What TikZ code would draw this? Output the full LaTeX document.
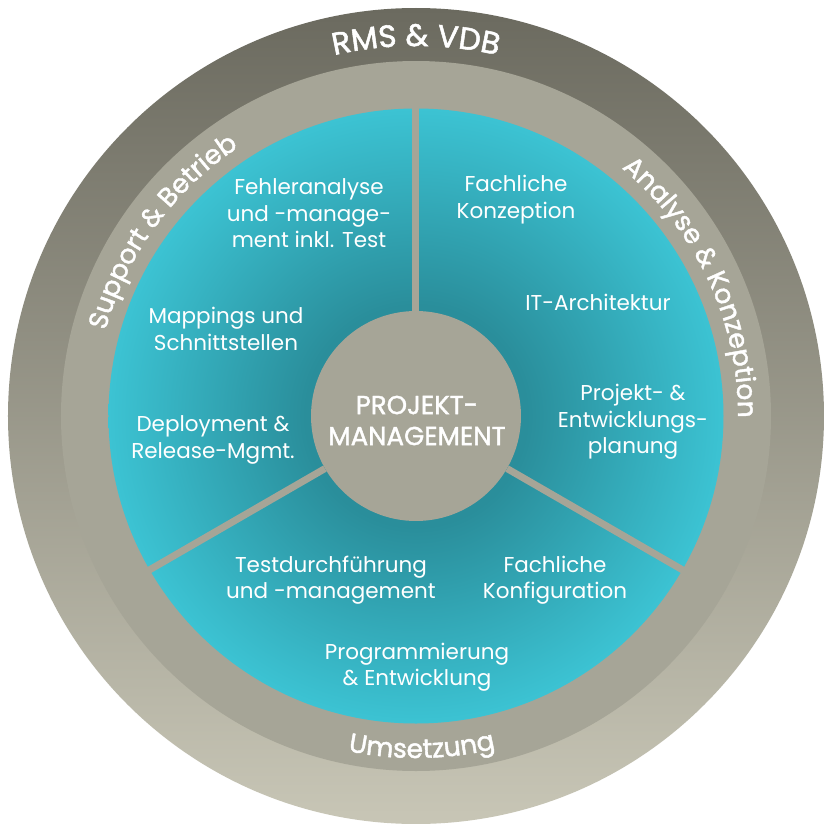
\documentclass[tikz,border=0pt]{standalone}
\usepackage{fontspec}
\setmainfont{Poppins}
\newfontfamily\ringfont{Poppins}[FakeBold=1.6]
\usetikzlibrary{decorations.text}
\definecolor{ringtwo}{HTML}{A6A597}
\definecolor{outtop}{HTML}{6B6A5F}
\definecolor{outbot}{HTML}{C8C6B6}
\definecolor{tealdark}{HTML}{2A8E9B}
\definecolor{teallight}{HTML}{3CC3D3}
\pgfdeclareradialshading{tealshade}{\pgfpoint{0bp}{0bp}}{color(0bp)=(tealdark); color(9bp)=(tealdark); color(25bp)=(teallight); color(50bp)=(teallight)}
\tikzset{
  inner/.style={text=white, align=center, font=\fontsize{21.5}{26.5}\selectfont, inner sep=0pt},
  spoke/.style={draw=ringtwo, line width=7pt},
  ringlabel/.style={decorate, decoration={text along path, text align=center, text color=white}},
}
\begin{document}
\begin{tikzpicture}[x=1pt,y=1pt]
\useasboundingbox (-416,-407) rectangle (409,416);
\fill[white] (-416,-407) rectangle (409,416);
\shade[top color=outtop, bottom color=outbot] (0,0) circle (408);
\fill[ringtwo] (0,0) circle (355);
\shade[shading=tealshade] (0,0) circle (307.5);
\node[circle, fill=ringtwo, minimum size=210pt, inner sep=0pt] (pmcircle) at (0,0) {};
\coordinate (s1) at (90:309);
\coordinate (s2) at (210:309);
\coordinate (s3) at (330:309);
\draw[spoke] (pmcircle.90) -- (s1);
\draw[spoke] (pmcircle.210) -- (s2);
\draw[spoke] (pmcircle.330) -- (s3);
% ring labels
\path[ringlabel, decoration={text={|\ringfont\fontsize{31}{33}\selectfont|RMS {\&} VDB}}] (115:370) arc[start angle=115, end angle=65, radius=370];
\path[ringlabel, decoration={text={|\ringfont\fontsize{26.5}{28}\selectfont|Support {\&} Betrieb}}] (194:322) arc[start angle=194, end angle=94, radius=322];
\path[ringlabel, decoration={text={|\ringfont\fontsize{26.5}{28}\selectfont|Analyse {\&} Konzeption}}] (88:322) arc[start angle=88, end angle=-38, radius=322];
\path[ringlabel, decoration={text={|\ringfont\fontsize{26.5}{28}\selectfont|Umsetzung}}] (238:342) arc[start angle=238, end angle=304, radius=342];
% inner texts
\node[text=white, align=center, font=\ringfont\fontsize{26}{31}\selectfont, inner sep=0pt] (pm) at (1,-4.5) {PROJEKT-\\MANAGEMENT};
\node[inner] (fehler) at (-107,202.5) {Fehleranalyse\\und -manage-\\ment inkl. Test};
\node[inner] (fkonz) at (100,216.5) {Fachliche\\Konzeption};
\node[inner] (itarch) at (182,113.5) {IT-Architektur};
\node[inner] (mapp) at (-190,87) {Mappings und\\Schnittstellen};
\node[inner] (pep) at (217,-6) {Projekt- \&\\Entwicklungs-\\planung};
\node[inner] (deploy) at (-203,-24) {Deployment \&\\Release-Mgmt.};
\node[inner] (test) at (-85,-164) {Testdurchführung\\und -management};
\node[inner] (fkonf) at (139,-164) {Fachliche\\Konfiguration};
\node[inner] (prog) at (1,-251) {Programmierung\\\& Entwicklung};
\end{tikzpicture}
\end{document}
